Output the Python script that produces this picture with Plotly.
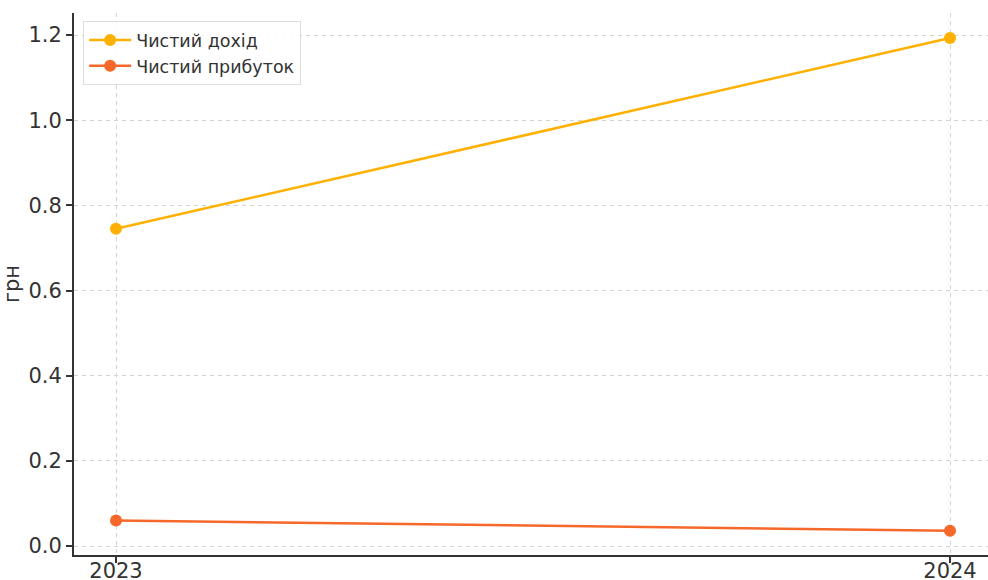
import plotly.graph_objects as go

years = [2023, 2024]
income = [0.745, 1.193]
profit = [0.060, 0.036]
series_names = ["Чистий дохід", "Чистий прибуток"]
y_ticks = [0.0, 0.2, 0.4, 0.6, 0.8, 1.0, 1.2]

fig = go.Figure()
fig.add_trace(go.Scatter(x=years, y=income, name=series_names[0], mode="lines+markers",
                         line=dict(color="#FFB000", width=2.5), marker=dict(size=12, color="#FFB000")))
fig.add_trace(go.Scatter(x=years, y=profit, name=series_names[1], mode="lines+markers",
                         line=dict(color="#F5682A", width=2.5), marker=dict(size=12, color="#F5682A")))

grid = dict(showgrid=True, gridcolor="#d4d4d4", griddash="4px,4px", gridwidth=1,
            showline=True, linecolor="#333333", linewidth=2,
            ticks="outside", ticklen=6, tickcolor="#333333", tickwidth=1.5,
            tickfont=dict(size=21, color="#333333"), zeroline=False, automargin=False)

fig.update_layout(
    width=988, height=580,
    margin=dict(l=74, r=0, t=13, b=25),
    plot_bgcolor="white", paper_bgcolor="white",
    font=dict(family="DejaVu Sans", color="#333333"),
    showlegend=True,
    legend=dict(x=0.01, y=0.985, xanchor="left", yanchor="top",
                bgcolor="rgba(255,255,255,0.85)", bordercolor="#dddddd", borderwidth=1,
                font=dict(size=17.5, color="#333333"), itemwidth=42, tracegroupgap=2),
    xaxis=dict(range=[2023 - 42/834, 2024 + 38/834], tickvals=years, ticktext=[str(y) for y in years],
               ticklabelstandoff=-10, **grid),
    yaxis=dict(range=[-0.0211, 1.2517], tickvals=y_ticks, ticktext=[f"{v:.1f}" for v in y_ticks],
               title=dict(text="грн", font=dict(size=21, color="#333333"), standoff=5), **grid),
)

fig.write_html("out.html")
